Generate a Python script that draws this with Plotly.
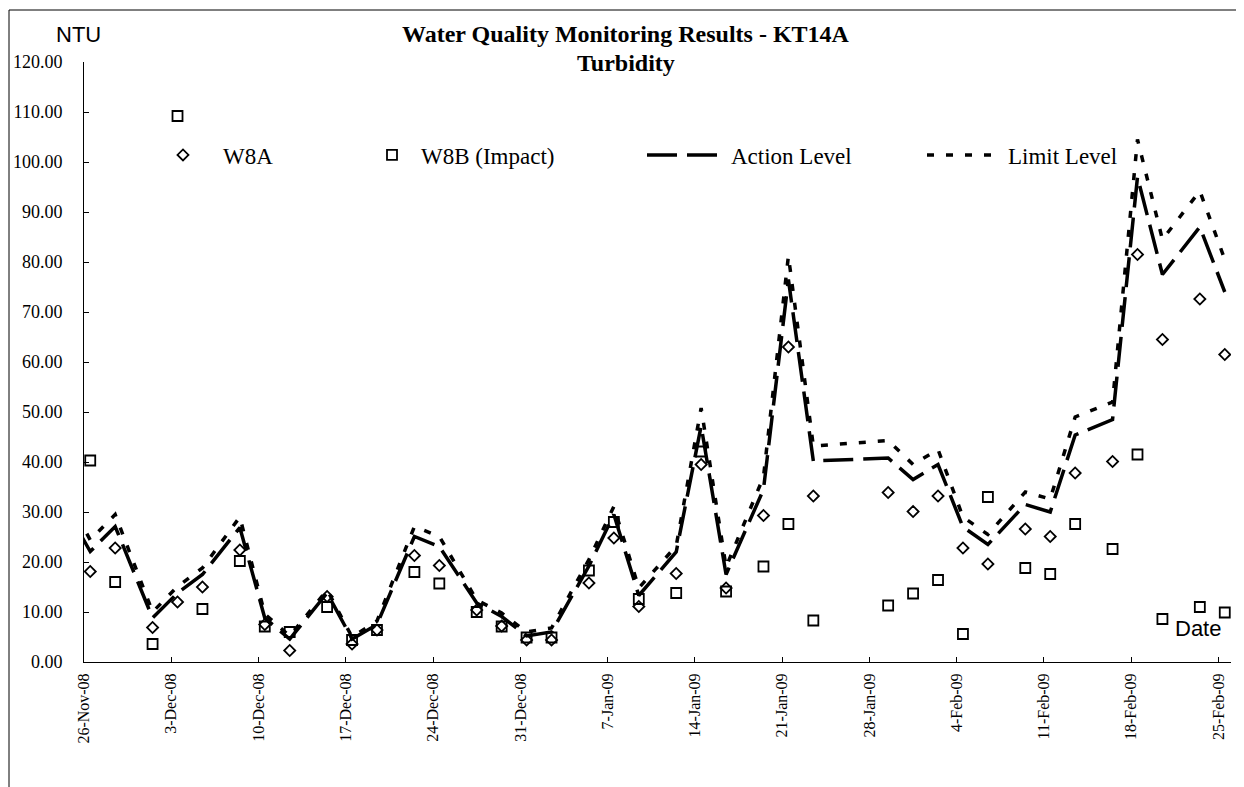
import pandas as pd
import plotly.graph_objects as go

# ---------------- data ----------------
dates = ["2008-11-26", "2008-11-28", "2008-12-01", "2008-12-03", "2008-12-05",
         "2008-12-08", "2008-12-10", "2008-12-12", "2008-12-15", "2008-12-17",
         "2008-12-19", "2008-12-22", "2008-12-24", "2008-12-27", "2008-12-29",
         "2008-12-31", "2009-01-02", "2009-01-05", "2009-01-07", "2009-01-09",
         "2009-01-12", "2009-01-14", "2009-01-16", "2009-01-19", "2009-01-21",
         "2009-01-23", "2009-01-29", "2009-01-31", "2009-02-02", "2009-02-04",
         "2009-02-06", "2009-02-09", "2009-02-11", "2009-02-13", "2009-02-16",
         "2009-02-18", "2009-02-20", "2009-02-23", "2009-02-25"]

w8a = [18.1, 22.8, 6.9, 12.0, 15.0, 22.4, 7.5, 2.3, 13.1, 3.6,
       6.4, 21.3, 19.3, 10.4, 7.2, 4.4, 4.4, 15.8, 24.8, 11.1,
       17.7, 39.5, 14.8, 29.3, 63.0, 33.2, 33.9, 30.1, 33.2, 22.8,
       19.6, 26.6, 25.1, 37.8, 40.1, 81.5, 64.5, 72.6, 61.5]

w8b = [40.3, 16.0, 3.6, 109.2, 10.6, 20.2, 7.1, 6.0, 11.0, 4.4,
       6.4, 18.0, 15.7, 10.0, 7.1, 4.9, 4.9, 18.3, 28.0, 12.6,
       13.8, 42.1, 14.1, 19.1, 27.6, 8.3, 11.3, 13.7, 16.4, 5.6,
       33.0, 18.8, 17.6, 27.6, 22.6, 41.5, 8.6, 11.0, 9.9]

# level lines start one day earlier (their first point lies just left of the axis)
level_dates = ["2008-11-25"] + dates
action_level = [26.5, 22.1, 27.1, 8.8, 13.8, 17.5, 26.9, 8.8, 4.6, 13.8, 4.6,
                7.5, 25.1, 23.1, 11.8, 9.1, 5.2, 6.0, 19.2, 29.5, 13.3,
                22.0, 47.2, 17.5, 34.5, 76.5, 40.2, 40.8, 36.5, 39.5, 27.0,
                23.5, 31.5, 30.0, 45.4, 48.5, 97.0, 77.5, 87.0, 74.0]
limit_level = [29.0, 24.4, 29.5, 10.0, 15.1, 18.8, 29.0, 9.6, 5.2, 14.4, 5.0,
               8.2, 27.1, 25.1, 12.4, 9.8, 6.0, 6.8, 20.5, 31.1, 14.8,
               23.2, 50.8, 19.0, 37.0, 81.2, 43.2, 44.3, 39.5, 42.5, 29.0,
               25.5, 34.0, 32.6, 49.0, 52.0, 104.5, 84.5, 94.2, 80.5]

y_ticks = [0, 10, 20, 30, 40, 50, 60, 70, 80, 90, 100, 110, 120]

# points sit in the middle of each day (date-axis "between tick marks")
half_day = pd.Timedelta(hours=12)
x_pts = pd.to_datetime(dates) + half_day
x_lvl = pd.to_datetime(level_dates) + half_day

SERIF = "Liberation Serif, Times New Roman, serif"
NARROW = "Liberation Sans Narrow, Arial Narrow, Liberation Sans, Arial, sans-serif"

fig = go.Figure()
fig.add_trace(go.Scatter(
    x=x_pts, y=w8a, mode="markers", name="W8A", legend="legend",
    marker=dict(symbol="diamond-open", size=8.5, color="black",
                line=dict(width=1.8, color="black"))))
fig.add_trace(go.Scatter(
    x=x_pts, y=w8b, mode="markers", name="W8B (Impact)", legend="legend2",
    marker=dict(symbol="square-open", size=10, color="black",
                line=dict(width=1.8, color="black"))))
fig.add_trace(go.Scatter(
    x=x_lvl, y=action_level, mode="lines", name="Action Level", legend="legend3",
    line=dict(color="black", width=3.5, dash="30px,10px")))
fig.add_trace(go.Scatter(
    x=x_lvl, y=limit_level, mode="lines", name="Limit Level", legend="legend4",
    line=dict(color="black", width=3.5, dash="7px,12px")))

# page has an 8px body margin: figure coords = page coords - 8
OFF = 8
W, H = 1244 - OFF, 787 - OFF
L, T = 84 - OFF, 62 - OFF
PR, PB = 1231 - OFF, 662 - OFF          # plot right / bottom in figure coords
R, B = W - PR, H - PB
pw, ph = PR - L, PB - T


def px(x):
    """page x -> paper x"""
    return (x - OFF - L) / pw


def py(y):
    """page y -> paper y"""
    return (PB - (y - OFF)) / ph


leg_common = dict(orientation="h", yanchor="middle", xanchor="left",
                  bgcolor="rgba(0,0,0,0)", borderwidth=0,
                  font=dict(family=SERIF, size=23, color="black"))

fig.update_layout(
    width=W, height=H,
    margin=dict(l=L, r=R, t=T, b=B, autoexpand=False),
    paper_bgcolor="white", plot_bgcolor="white",
    showlegend=True,
    legend=dict(x=px(143), y=py(155), itemwidth=70, **leg_common),
    legend2=dict(x=px(363), y=py(155), itemwidth=48, **leg_common),
    legend3=dict(x=px(642), y=py(155), itemwidth=79, **leg_common),
    legend4=dict(x=px(922), y=py(155), itemwidth=76, **leg_common),
    xaxis=dict(
        type="date", automargin=False,
        range=["2008-11-26", "2009-02-26"],
        tick0="2008-11-26", dtick=7 * 24 * 3600 * 1000,
        tickformat="%-d-%b-%y", tickangle=-90,
        ticks="inside", ticklen=5, tickcolor="black",
        showline=True, linecolor="black", linewidth=1,
        showgrid=False, zeroline=False,
        tickfont=dict(family=SERIF, size=16, color="black"),
        ticklabelstandoff=4,
    ),
    yaxis=dict(
        automargin=False,
        range=[0, 120], tickvals=y_ticks, tickformat=".2f",
        ticks="inside", ticklen=5, tickcolor="black",
        showline=True, linecolor="black", linewidth=1,
        showgrid=False, zeroline=False,
        tickfont=dict(family=SERIF, size=18, color="black"),
        ticklabelstandoff=17,
    ),
    shapes=[dict(type="rect", xref="paper", yref="paper",
                 x0=px(9), x1=px(1300), y0=py(850), y1=py(10),
                 line=dict(color="black", width=1), fillcolor="rgba(0,0,0,0)",
                 layer="below")],
    annotations=[
        dict(text="<b>Water Quality Monitoring Results - KT14A</b>",
             xref="paper", yref="paper", x=px(626), y=py(34),
             xanchor="center", yanchor="middle", showarrow=False,
             font=dict(family=SERIF, size=24, color="black")),
        dict(text="<b>Turbidity</b>",
             xref="paper", yref="paper", x=px(626), y=py(63),
             xanchor="center", yanchor="middle", showarrow=False,
             font=dict(family=SERIF, size=24, color="black")),
        dict(text="NTU", xref="paper", yref="paper", x=px(78), y=py(34),
             xanchor="center", yanchor="middle", showarrow=False,
             font=dict(family=NARROW, size=22, color="black")),
        dict(text="Date", xref="paper", yref="paper", x=px(1198), y=py(628),
             xanchor="center", yanchor="middle", showarrow=False,
             font=dict(family=NARROW, size=22, color="black")),
    ],
)

fig.write_html("out.html")
